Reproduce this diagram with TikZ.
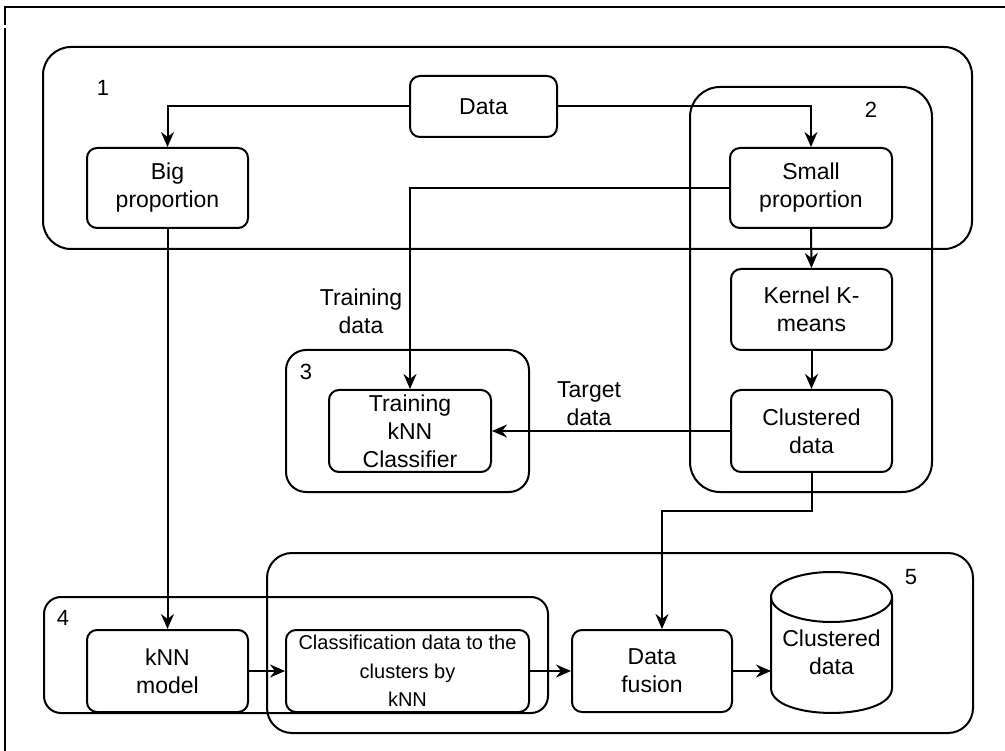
\documentclass[tikz,border=0pt]{standalone}
\usepackage{fontspec}
\setmainfont{Liberation Sans}
\usetikzlibrary{arrows.meta}
\begin{document}
\begin{tikzpicture}[x=1pt,y=-1pt,
  ln/.style={line width=2pt},
  box/.style={draw, ln, rounded corners=10pt, align=center, inner sep=0pt, font=\fontsize{23}{28}\selectfont},
  arr/.style={ln, -{Stealth[length=15pt,width=13pt,inset=5pt]}},
  lab/.style={align=center, font=\fontsize{23}{28}\selectfont},
  num/.style={font=\fontsize{22}{26}\selectfont}]
\useasboundingbox (0,0) rectangle (1005,751);
% outer frame lines
\draw[line width=1.5pt] (1005,7) -- (5,7) -- (5,25);
\draw[line width=1.5pt] (5,28) -- (5,751);
% groups
\draw[ln, rounded corners=28pt] (43,47) rectangle (972,249);
\draw[ln, rounded corners=30pt] (690,87) rectangle (932,492);
\draw[ln, rounded corners=20pt] (286,350) rectangle (529,492);
\draw[ln, rounded corners=17pt] (44,597) rectangle (548,713);
\draw[ln, rounded corners=25pt] (267,553) rectangle (973,733);
% group numbers
\node[num] (n1) at (103,88) {1};
\node[num] (n2) at (871,110) {2};
\node[num] (n3) at (306,372) {3};
\node[num] (n4) at (63,618) {4};
\node[num] (n5) at (911,577) {5};
% boxes
\node[box, minimum width=147pt, minimum height=61pt] (data) at (483.5,106.5) {Data};
\node[box, minimum width=161pt, minimum height=80pt] (big) at (167.5,188) {Big\\proportion};
\node[box, minimum width=162pt, minimum height=80pt] (small) at (811,188) {Small\\proportion};
\node[box, minimum width=161pt, minimum height=81pt] (kernel) at (811.5,309.5) {Kernel K-\\means};
\node[box, minimum width=161pt, minimum height=82pt] (clus) at (811.5,431) {Clustered\\data};
\node[box, minimum width=162pt, minimum height=82pt] (train) at (410,431) {Training\\kNN\\Classifier};
\node[box, minimum width=161pt, minimum height=82pt] (knn) at (167.5,671) {kNN\\model};
\node[box, minimum width=243pt, minimum height=82pt, font=\fontsize{20}{28.5}\selectfont] (class) at (407.5,671) {Classification data to the\\clusters by\\kNN};
\node[box, minimum width=160pt, minimum height=82pt] (fusion) at (652,671) {Data\\fusion};
% cylinder
\draw[ln] (771,597) -- (771,688) .. controls (771,721.3) and (892,721.3) .. (892,688) -- (892,597);
\draw[ln] (831.5,597) ellipse [x radius=60.5, y radius=25];
\node[lab] (cyl) at (831.5,652) {Clustered\\data};
\coordinate (cylw) at (771,671);
% labels
\node[lab] (tdlab) at (361,311) {Training\\data};
\node[lab] (tglab) at (589,404) {Target\\data};
% connectors
\draw[arr] (data.west) -| (big.north);
\draw[arr] (data.east) -| (small.north);
\draw[arr] (small.south) -- (kernel.north);
\draw[arr] (kernel.south) -- (clus.north);
\draw[arr] (small.west) -| (train.north);
\draw[arr] (clus.west) -- (train.east);
\draw[arr] (big.south) -- (knn.north);
\coordinate (bend) at (662,511);
\draw[arr] (clus.south) |- (bend) -- (fusion.north -| bend);
\draw[arr] (knn.east) -- (class.west);
\draw[arr] (class.east) -- (fusion.west);
\draw[arr] (fusion.east) -- (cylw);
\end{tikzpicture}
\end{document}
